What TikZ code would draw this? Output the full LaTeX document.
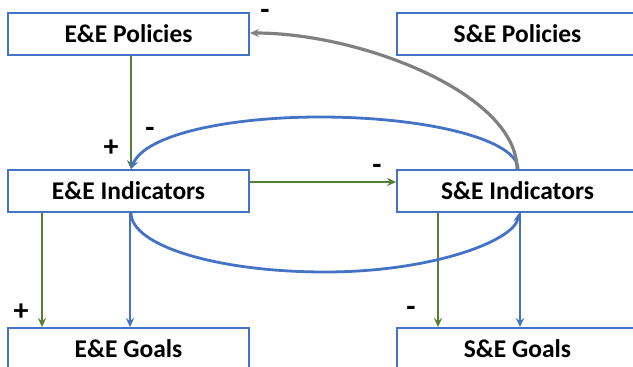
\documentclass[tikz,border=0pt]{standalone}
\usepackage{fontspec}
\setmainfont{Carlito}
\usetikzlibrary{arrows.meta}
\definecolor{boxblue}{RGB}{68,114,196}
\definecolor{lgreen}{RGB}{84,130,53}
\definecolor{lgray}{RGB}{128,128,128}
\tikzset{
  stagebox/.style={draw=boxblue, line width=1.8pt, fill=white, minimum width=241pt, minimum height=42pt, inner sep=0pt, font=\fontsize{25.5}{30}\selectfont\bfseries},
  sign/.style={inner sep=0pt, font=\fontsize{30}{34}\selectfont\bfseries},
  tip/.style={-{Stealth[length=9pt,width=8pt]}},
  gline/.style={tip, draw=lgreen, line width=2.8pt},
  bline/.style={tip, draw=boxblue, line width=2.8pt},
  grline/.style={tip, draw=lgray, line width=3.2pt},
}
\begin{document}
\begin{tikzpicture}[x=1pt,y=-1pt]
\useasboundingbox (0,0) rectangle (633,367);
\clip (0,0) rectangle (633,367);
\node[stagebox] (ep) at (128.5,34) {E\&E Policies};
\node[stagebox] (sp) at (517.5,34) {S\&E Policies};
\node[stagebox] (ei) at (128.5,191) {E\&E Indicators};
\node[stagebox] (si) at (517.5,191) {S\&E Indicators};
\node[stagebox] (eg) at (128.5,349) {E\&E Goals};
\node[stagebox] (sg) at (517.5,349) {S\&E Goals};
% straight connectors
\draw[gline] ([xshift=2.5pt]ep.south) -- ([xshift=2.5pt]ei.north);
\draw[gline] ([yshift=9pt]ei.east) -- ([yshift=9pt]si.west);
\draw[gline] ([xshift=-86.5pt]ei.south) -- ([xshift=-86.5pt]eg.north);
\draw[bline] ([xshift=1.5pt]ei.south) -- ([xshift=1.5pt]eg.north);
\draw[gline] ([xshift=-79.5pt]si.south) -- ([xshift=-79.5pt]sg.north);
\draw[bline] ([xshift=2.5pt]si.south) -- ([xshift=2.5pt]sg.north);
% curves
\coordinate (topmid) at (320,117);
\coordinate (botmid) at (325,272);
\draw[bline] ([xshift=0.5pt]si.north) .. controls +(0,-29) and +(109,0) .. (topmid)
   .. controls +(-90,0) and +(14,-35) .. ([xshift=2.5pt]ei.north);
\draw[bline] ([xshift=2.5pt]ei.south) .. controls +(0,33) and +(-107,0) .. (botmid)
   .. controls +(107,0) and +(-5,28) .. ([xshift=1.5pt]si.south);
\draw[grline] ([xshift=-0.5pt]si.north) .. controls +(0,-75) and +(112,0) .. ([yshift=1pt]ep.east);
% signs
\node[sign] (s1) at (265,14) {-};
\node[sign] (s2) at (111,148) {+};
\node[sign] (s3) at (150,132) {-};
\node[sign] (s4) at (377,169) {-};
\node[sign] (s5) at (21,312) {+};
\node[sign] (s6) at (411,311) {-};
\end{tikzpicture}
\end{document}
